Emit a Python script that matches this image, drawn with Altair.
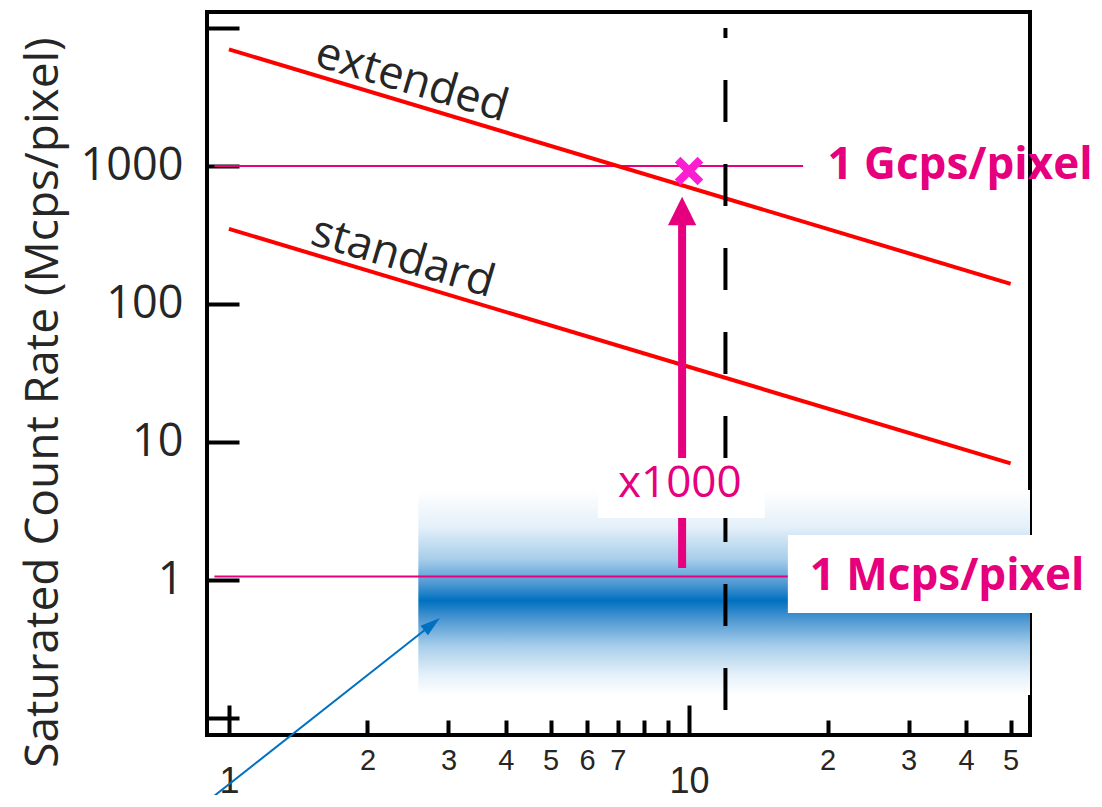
import altair as alt
import pandas as pd

# ---------------- data ----------------
line_x = [1, 50]
extended_y = [7000, 140]
standard_y = [350, 7]

curve_labels = ["extended", "standard"]
curve_label_x = [2.50, 2.39]
curve_label_y = [4200, 219]

ref_levels = [1000, 1.06]
ref_start = [0.93, 0.93]
ref_end = [17.7, 17.0]

limit_x = 12.0
limit_top = 10000
limit_bottom = 0.1

band_x = [2.58, 55.1]
band_y = [0.147, 4.49]

arrow_x = 9.66
arrow_from = 1.22
arrow_to = 373
arrow_head_y = 472

marker_x = [10]
marker_y = [920]

boost_text = ["x1000"]
boost_x = [9.55]
boost_y = [4.96]
boost_box_x = [6.34, 14.6]
boost_box_y = [2.81, 7.66]

g_text = ["1 Gcps/pixel"]
g_x = [20.0]
g_y = [1000]

m_text = ["1 Mcps/pixel"]
m_x = [18.3]
m_y = [1.06]
m_box_x = [16.4, 79.0]
m_box_y = [0.577, 2.12]

pointer_x = [0.865, 2.764]
pointer_y = [0.0226, 0.478]

y_ticks = [0.1, 1, 10, 100, 1000, 10000]
x_major = [1, 10]
x_minor = [2, 3, 4, 5, 6, 7, 8, 9, 20, 30, 40, 50]

X_DOMAIN = [0.896, 55.1]
Y_DOMAIN = [0.0753, 13060]

MAGENTA = "#e6007e"
RED = "#ff0000"
BLUE = "#0070c0"
TXT = "#262626"


def xs():
    return alt.Scale(type="log", domain=X_DOMAIN, nice=False)


def ys():
    return alt.Scale(type="log", domain=Y_DOMAIN, nice=False)


def X(field, axis=None):
    return alt.X(field, type="quantitative", scale=xs(), axis=axis, title=None)


def Y(field, axis=None):
    return alt.Y(field, type="quantitative", scale=ys(), axis=axis, title=None)


# ---------------- layers ----------------
band = alt.Chart(pd.DataFrame({"x": [band_x[0]], "x2": [band_x[1]],
                               "y": [band_y[1]], "y2": [band_y[0]]})).mark_rect(
    color=alt.Gradient(
        gradient="linear", x1=0, x2=0, y1=0, y2=1,
        stops=[alt.GradientStop(color="#ffffff", offset=0),
               alt.GradientStop(color="#e4f0f9", offset=0.18),
               alt.GradientStop(color="#a6cdea", offset=0.34),
               alt.GradientStop(color="#4c97d2", offset=0.46),
               alt.GradientStop(color=BLUE, offset=0.54),
               alt.GradientStop(color="#4c97d2", offset=0.63),
               alt.GradientStop(color="#a6cdea", offset=0.76),
               alt.GradientStop(color="#e4f0f9", offset=0.9),
               alt.GradientStop(color="#ffffff", offset=1)]),
).encode(x=X("x"), x2="x2", y=Y("y"), y2="y2")

refs = alt.Chart(pd.DataFrame({"y": ref_levels, "x": ref_start, "x2": ref_end})).mark_rule(
    color=MAGENTA, strokeWidth=2
).encode(x=X("x"), x2="x2", y=Y("y"))

curves_df = pd.DataFrame({
    "x": line_x + line_x,
    "y": extended_y + standard_y,
    "mode": ["extended"] * 2 + ["standard"] * 2,
})

y_axis = alt.Axis(
    values=y_ticks, orient="left", offset=-32, tickSize=32, tickWidth=4,
    tickColor="black", domain=False, grid=False,
    labelExpr="(datum.value >= 1 && datum.value <= 1000) ? format(datum.value, 'd') : ''",
    labelFont="Open Sans", labelFontSize=45, labelColor=TXT, labelPadding=24,
    title="Saturated Count Rate (Mcps/pixel)", titleFont="Open Sans",
    titleFontSize=46, titleFontWeight="normal", titleColor=TXT,
    titleAngle=-90, titleX=-196, titleY=390, titleAlign="center",
    titleBaseline="middle",
)
x_axis_major = alt.Axis(
    values=x_major, orient="bottom", offset=-30, tickSize=30, tickWidth=4,
    tickColor="black", domain=False, grid=False, format="d",
    labelFont="Liberation Sans", labelFontSize=36, labelColor=TXT,
    labelPadding=29, labelFlush=False, labelOverlap=False,
)
x_axis_minor = alt.Axis(
    values=x_minor, orient="bottom", offset=-15, tickSize=15, tickWidth=4,
    tickColor="black", domain=False, grid=False,
    labelExpr="(datum.value == 8 || datum.value == 9) ? '' : format(datum.value < 10 ? datum.value : datum.value / 10, 'd')",
    labelFont="Liberation Sans", labelFontSize=29, labelColor=TXT,
    labelPadding=11, labelFlush=False, labelOverlap=False,
)

curves = alt.Chart(curves_df).mark_line(color=RED, strokeWidth=4).encode(
    x=alt.X("x:Q", scale=xs(), axis=x_axis_major, title=None),
    y=alt.Y("y:Q", scale=ys(), axis=y_axis),
    detail="mode:N",
)

minor_axis_layer = alt.Chart(pd.DataFrame({"x": x_minor})).mark_point(opacity=0).encode(
    x=alt.X("x:Q", scale=xs(), axis=x_axis_minor, title=None),
    y=alt.Y("y:Q", scale=ys(), axis=None),
).transform_calculate(y="1")

curve_text = alt.Chart(pd.DataFrame({"t": curve_labels, "x": curve_label_x, "y": curve_label_y})).mark_text(
    font="Open Sans", fontSize=45, color=TXT, angle=16.5, align="center", baseline="middle"
).encode(x=X("x"), y=Y("y"), text="t:N")

limit = alt.Chart(pd.DataFrame({"x": [limit_x], "y": [limit_top], "y2": [limit_bottom]})).mark_rule(
    color="black", strokeWidth=4, strokeDash=[42, 42], strokeDashOffset=32
).encode(x=X("x"), y=Y("y"), y2="y2")

shaft = alt.Chart(pd.DataFrame({"x": [arrow_x], "y": [arrow_from], "y2": [arrow_to]})).mark_rule(
    color=MAGENTA, strokeWidth=8
).encode(x=X("x"), y=Y("y"), y2="y2")

head = alt.Chart(pd.DataFrame({"x": [arrow_x], "y": [arrow_head_y]})).mark_point(
    shape="M-1,1L0,-1L1,1Z", filled=True, color=MAGENTA, opacity=1,
    size=800, strokeWidth=0
).encode(x=X("x"), y=Y("y"))

boost_box = alt.Chart(pd.DataFrame({"x": [boost_box_x[0]], "x2": [boost_box_x[1]],
                                    "y": [boost_box_y[1]], "y2": [boost_box_y[0]]})).mark_rect(
    color="white"
).encode(x=X("x"), x2="x2", y=Y("y"), y2="y2")

boost = alt.Chart(pd.DataFrame({"t": boost_text, "x": boost_x, "y": boost_y})).mark_text(
    font="Open Sans", fontSize=44, color=MAGENTA, align="center", baseline="middle"
).encode(x=X("x"), y=Y("y"), text="t:N")

marker = alt.Chart(pd.DataFrame({"x": marker_x, "y": marker_y})).mark_point(
    shape="M-1,-1L1,1M1,-1L-1,1", filled=False, color="#fb1fd1", opacity=1,
    size=520, strokeWidth=8, strokeCap="butt"
).encode(x=X("x"), y=Y("y"))

g_label = alt.Chart(pd.DataFrame({"t": g_text, "x": g_x, "y": g_y})).mark_text(
    font="Open Sans", fontSize=44, fontWeight="bold", color=MAGENTA, align="left", baseline="middle"
).encode(x=X("x"), y=Y("y"), text="t:N")

m_box = alt.Chart(pd.DataFrame({"x": [m_box_x[0]], "x2": [m_box_x[1]],
                                "y": [m_box_y[1]], "y2": [m_box_y[0]]})).mark_rect(
    color="white"
).encode(x=X("x"), x2="x2", y=Y("y"), y2="y2")

m_label = alt.Chart(pd.DataFrame({"t": m_text, "x": m_x, "y": m_y})).mark_text(
    font="Open Sans", fontSize=44, fontWeight="bold", color=MAGENTA, align="left", baseline="middle"
).encode(x=X("x"), y=Y("y"), text="t:N")

pointer = alt.Chart(pd.DataFrame({"x": pointer_x, "y": pointer_y})).mark_line(
    color=BLUE, strokeWidth=2
).encode(x=X("x"), y=Y("y"))

pointer_head = alt.Chart(pd.DataFrame({"x": [pointer_x[1]], "y": [pointer_y[1]]})).mark_point(
    shape="M0,-1L-0.6,1L0.6,1Z", filled=True, color=BLUE, opacity=1, size=400,
    angle=51.8, strokeWidth=0
).encode(x=X("x"), y=Y("y"))

chart = alt.layer(
    band, refs, curves, minor_axis_layer, curve_text, limit, shaft, head,
    boost_box, boost, marker, g_label, m_box, m_label, pointer, pointer_head,
).resolve_axis(x="independent", y="independent").properties(
    width=823, height=723, autosize="none", background="white",
    padding={"left": 199, "top": 4, "right": 63, "bottom": 60},
).configure_view(stroke="black", strokeWidth=4)

chart.save("out.html", embed_options={"renderer": "svg", "actions": False})
